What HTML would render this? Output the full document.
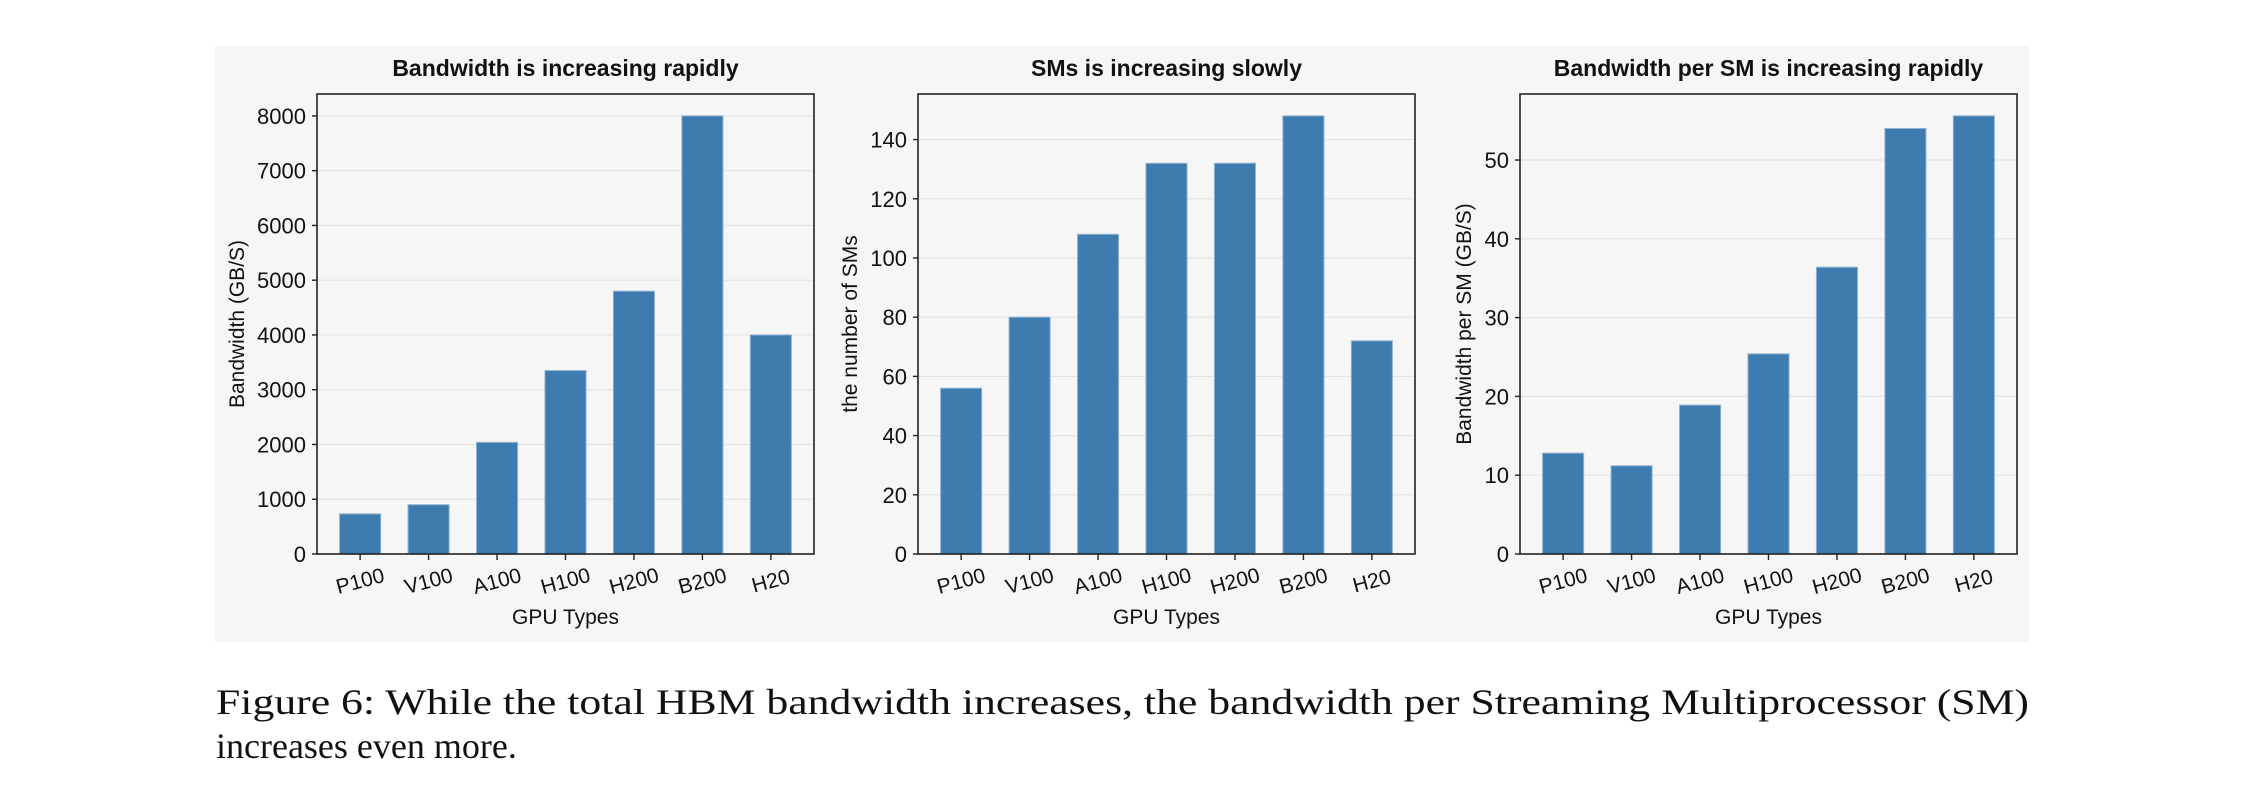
<!DOCTYPE html>
<html><head><meta charset="utf-8">
<style>
html,body{margin:0;padding:0;background:#fff;}
svg{display:block;}
text{font-family:"Liberation Sans",Arial,sans-serif;fill:#111;}
.cap{font-family:"Liberation Serif","Times New Roman",serif;fill:#111;}
</style></head>
<body>
<svg id="fig" width="2256" height="800" viewBox="0 0 2256 800" xmlns="http://www.w3.org/2000/svg">
  <rect x="215" y="46" width="1814" height="596" fill="#f6f6f6"/>
  <g id="charts"></g>
  <text class="cap" x="216" y="714" font-size="36" textLength="1813" lengthAdjust="spacingAndGlyphs">Figure 6: While the total HBM bandwidth increases, the bandwidth per Streaming Multiprocessor (SM)</text>
  <text class="cap" x="216" y="758" font-size="36">increases even more.</text>
</svg>
<script>
const categories = ["P100","V100","A100","H100","H200","B200","H20"];
const bandwidthValues = [732, 900, 2039, 3350, 4800, 8000, 4000];
const smValues = [56, 80, 108, 132, 132, 148, 72];
const perSmValues = [12.8, 11.2, 18.9, 25.4, 36.4, 54.0, 55.6];
const bandwidthTicks = [0,1000,2000,3000,4000,5000,6000,7000,8000];
const smTicks = [0,20,40,60,80,100,120,140];
const perSmTicks = [0,10,20,30,40,50];
const titles = ["Bandwidth is increasing rapidly","SMs is increasing slowly","Bandwidth per SM is increasing rapidly"];
const yLabels = ["Bandwidth (GB/S)","the number of SMs","Bandwidth per SM (GB/S)"];

const NS = "http://www.w3.org/2000/svg";
const root = document.getElementById('charts');
function mk(tag, attrs, parent, txt){
  const e = document.createElementNS(NS, tag);
  for (const k in attrs) e.setAttribute(k, attrs[k]);
  if (txt !== undefined) e.textContent = txt;
  parent.appendChild(e);
  return e;
}
const panels = [
  {left:317, values:bandwidthValues, ticks:bandwidthTicks, ylabX:237, key:'bandwidth'},
  {left:918, values:smValues, ticks:smTicks, ylabX:850, key:'sm-count'},
  {left:1520, values:perSmValues, ticks:perSmTicks, ylabX:1464, key:'bandwidth-per-sm'}
];
const W = 497, TOP = 94, BOT = 554;
panels.forEach((p, i) => {
  const g = mk('g', {}, root);
  
  
  const maxV = Math.max(...p.values) * 1.05;
  const y = v => BOT - (v / maxV) * (BOT - TOP);
  const n = categories.length;
  const xmin = -0.3 - 0.05 * (n - 1 + 0.6), xmax = n - 0.7 + 0.05 * (n - 1 + 0.6);
  const x = c => p.left + (c - xmin) / (xmax - xmin) * W;
  p.ticks.forEach(t => {
    const gl = mk('line', {x1:p.left, x2:p.left+W, y1:y(t), y2:y(t), stroke:'#e4e4e4', 'stroke-width':1.2}, g);
    
    
  });
  p.values.forEach((v, k) => {
    const b = mk('rect', {x:x(k-0.3), y:y(v), width:x(k+0.3)-x(k-0.3), height:BOT-y(v), fill:'#3e7bae', stroke:'#8fb3d3', 'stroke-width':1}, g);
    
    
  });
  const fr = mk('rect', {x:p.left, y:TOP, width:W, height:BOT-TOP, fill:'none', stroke:'#222', 'stroke-width':1.6}, g);
  
  
  p.ticks.forEach(t => {
    mk('line', {x1:p.left-5, x2:p.left, y1:y(t), y2:y(t), stroke:'#222', 'stroke-width':1.4}, g);
    const tl = mk('text', {x:p.left-11, y:y(t)+8, 'font-size':22, 'text-anchor':'end'}, g, String(t));
    
    
  });
  categories.forEach((c, k) => {
    mk('line', {x1:x(k), x2:x(k), y1:BOT, y2:BOT+6, stroke:'#222', 'stroke-width':1.4}, g);
    const tl = mk('text', {x:x(k), y:588, 'font-size':21, 'text-anchor':'middle', transform:`rotate(-15 ${x(k)} 581)`}, g, c);
    
    
  });
  const xl = mk('text', {x:p.left+W/2, y:624, 'font-size':21, 'text-anchor':'middle'}, g, 'GPU Types');
  
  
  const yl = mk('text', {x:p.ylabX+7, y:(TOP+BOT)/2, 'font-size':21, 'text-anchor':'middle', transform:`rotate(-90 ${p.ylabX+7} ${(TOP+BOT)/2})`}, g, yLabels[i]);
  
  
  const tt = mk('text', {x:p.left+W/2, y:76, 'font-size':23, 'font-weight':'bold', 'text-anchor':'middle'}, g, titles[i]);
  
  
});
</script>
</body></html>
